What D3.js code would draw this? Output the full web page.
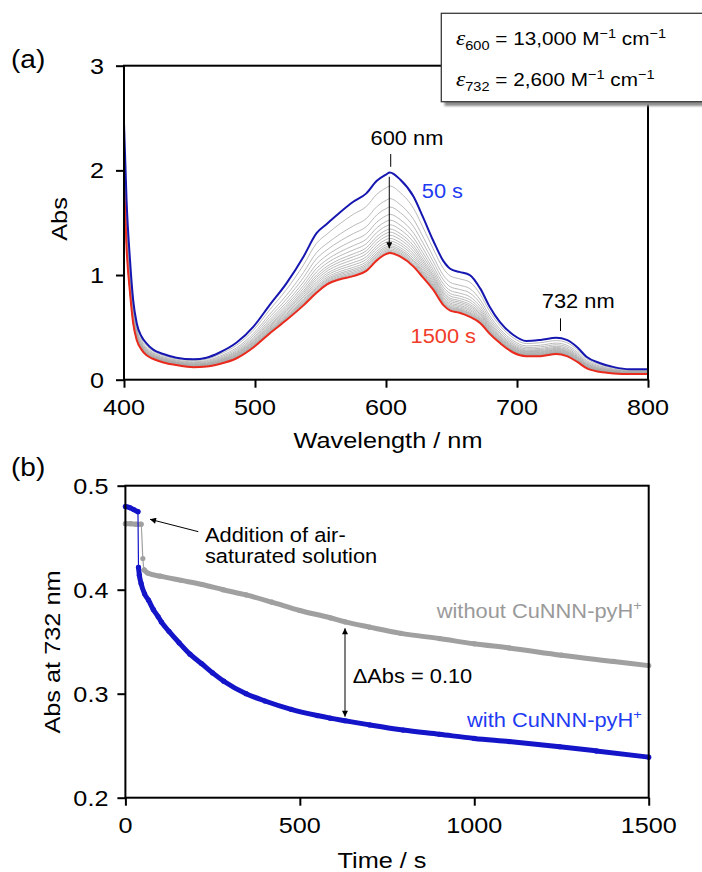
<!DOCTYPE html>
<html>
<head>
<meta charset="utf-8">
<script src="https://cdn.jsdelivr.net/npm/d3@7"></script>
<style>
  html, body { margin: 0; padding: 0; background: #fff; }
  svg { display: block; }
</style>
</head>
<body>
<svg id="fig" width="702" height="872"></svg>
<script>
// ---------- (a) UV-vis spectra ----------
const wavelengths = [400, 402, 404.6, 407, 409.7, 413.5, 417, 422, 430, 440, 453, 463, 473, 486, 499, 511, 524, 537, 547, 555, 565, 575, 585, 593, 600, 603, 611, 621, 628, 636, 644, 649, 656, 664, 672, 679, 687, 697, 707, 718, 730, 738, 746, 753, 763, 774, 786, 800];
// spectrum recorded at 50 s
const abs50s = [2.45, 1.70, 1.14, 0.76, 0.54, 0.41, 0.35, 0.29, 0.245, 0.21, 0.195, 0.21, 0.26, 0.355, 0.51, 0.71, 0.92, 1.175, 1.40, 1.49, 1.60, 1.70, 1.78, 1.90, 1.96, 1.98, 1.91, 1.75, 1.56, 1.33, 1.13, 1.06, 1.03, 1.00, 0.87, 0.70, 0.55, 0.43, 0.37, 0.38, 0.40, 0.38, 0.31, 0.22, 0.16, 0.12, 0.10, 0.10];
// spectrum recorded at 1500 s
const abs1500s = [1.90, 1.25, 0.83, 0.54, 0.38, 0.285, 0.235, 0.20, 0.165, 0.14, 0.12, 0.125, 0.15, 0.205, 0.31, 0.44, 0.57, 0.71, 0.83, 0.91, 0.96, 0.99, 1.04, 1.14, 1.20, 1.21, 1.175, 1.08, 0.98, 0.86, 0.71, 0.66, 0.64, 0.60, 0.54, 0.44, 0.35, 0.26, 0.225, 0.225, 0.245, 0.225, 0.17, 0.11, 0.075, 0.06, 0.055, 0.055];
// absorbance at the 603 nm maximum for the intermediate spectra
const intermediatePeakAbs = [1.85, 1.73, 1.65, 1.58, 1.525, 1.48, 1.44, 1.41, 1.38, 1.35, 1.325, 1.30, 1.28, 1.265, 1.25, 1.237, 1.226, 1.217];

const specXTicks = [400, 500, 600, 700, 800];
const specYTicks = [0, 1, 2, 3];

// ---------- (b) kinetics at 732 nm ----------
const timeWith = [0, 12, 24, 36, 37.5, 40, 45, 55, 66, 80, 94, 103, 125, 154, 185, 218, 250, 282, 346, 400, 475, 550, 587, 630, 700, 796, 900, 1000, 1100, 1245, 1350, 1500];
const absWith = [0.480, 0.479, 0.477, 0.475, 0.4215, 0.414, 0.406, 0.396, 0.390, 0.381, 0.374, 0.369, 0.360, 0.349, 0.338, 0.329, 0.320, 0.312, 0.300, 0.293, 0.285, 0.279, 0.2765, 0.274, 0.270, 0.265, 0.261, 0.257, 0.254, 0.249, 0.245, 0.239];
const timeWithout = [0, 15, 30, 45, 50, 54, 64, 100, 160, 220, 280, 346, 420, 500, 587, 630, 700, 790, 900, 1000, 1100, 1250, 1400, 1500];
const absWithout = [0.4635, 0.4635, 0.463, 0.463, 0.430, 0.419, 0.416, 0.413, 0.409, 0.405, 0.400, 0.395, 0.388, 0.380, 0.373, 0.369, 0.364, 0.358, 0.353, 0.348, 0.344, 0.337, 0.331, 0.327];

const timeTicks = [0, 500, 1000, 1500];
const kinYTicks = [0.2, 0.3, 0.4, 0.5];

// ---------- drawing ----------
const FONT = "'Liberation Sans', Arial, Helvetica, sans-serif";
const SX = 1.12;              // horizontal stretch of the lettering
const svg = d3.select('#fig').attr('font-family', FONT);

function label(parent, x, y, str, o = {}) {
  return parent.append('text')
    .attr('transform', `translate(${x},${y}) rotate(${o.rotate || 0}) scale(${SX},1)`)
    .attr('font-size', o.size || 19.5)
    .attr('text-anchor', o.anchor || 'start')
    .attr('fill', o.fill || '#000')
    .text(str);
}

const defs = svg.append('defs');
defs.append('marker').attr('id', 'head').attr('viewBox', '0 0 10 10')
  .attr('refX', 10).attr('refY', 5).attr('markerWidth', 9).attr('markerHeight', 6)
  .attr('markerUnits', 'userSpaceOnUse').attr('orient', 'auto-start-reverse')
  .append('path').attr('d', 'M0,0 L10,5 L0,10 Z').attr('fill', '#000');
defs.append('filter').attr('id', 'shadow').attr('x', '-10%').attr('y', '-20%').attr('width', '130%').attr('height', '150%')
  .append('feGaussianBlur').attr('stdDeviation', 1.3);

function frame(g, x, y, xTicks, yTicks, yFmt, yLabelGap) {
  const [x0, x1] = x.range(), [y0, y1] = y.range();
  g.append('g').attr('transform', `translate(0,${y0})`)
    .call(d3.axisBottom(x).tickValues(xTicks).tickSize(8).tickFormat(''))
    .call(s => { s.select('.domain').remove(); s.selectAll('line').attr('stroke-width', 2); });
  g.append('g').attr('transform', `translate(${x0},0)`)
    .call(d3.axisLeft(y).tickValues(yTicks).tickSize(8).tickFormat(''))
    .call(s => { s.select('.domain').remove(); s.selectAll('line').attr('stroke-width', 2); });
  g.append('rect').attr('x', x0).attr('y', y1).attr('width', x1 - x0).attr('height', y0 - y1)
    .attr('fill', 'none').attr('stroke', '#000').attr('stroke-width', 2);
  xTicks.forEach(v => label(g, x(v), y0 + 35.5, String(v), { size: 22.5, anchor: 'middle' }));
  yTicks.forEach(v => label(g, x0 - yLabelGap, y(v) + 8, yFmt(v), { size: 22.5, anchor: 'end' }));
}

// ----- panel (a) -----
const xa = d3.scaleLinear([400, 800], [124, 648]);
const ya = d3.scaleLinear([0, 3], [379.7, 65.7]);
const ga = svg.append('g');
const specLine = d3.line().x(d => xa(d[0])).y(d => ya(d[1])).curve(d3.curveMonotoneX);

const peakIdx = wavelengths.indexOf(603);
const hi = abs50s[peakIdx], lo = abs1500s[peakIdx];
intermediatePeakAbs.forEach(p => {
  const f = (p - lo) / (hi - lo);
  const pts = wavelengths.map((w, i) => [w, abs1500s[i] + f * (abs50s[i] - abs1500s[i])]);
  ga.append('path').attr('d', specLine(pts)).attr('fill', 'none')
    .attr('stroke', '#a8a8a8').attr('stroke-width', 0.8);
});
ga.append('path').attr('d', specLine(wavelengths.map((w, i) => [w, abs1500s[i]])))
  .attr('fill', 'none').attr('stroke', '#ea2a1c').attr('stroke-width', 2);
ga.append('path').attr('d', specLine(wavelengths.map((w, i) => [w, abs50s[i]])))
  .attr('fill', 'none').attr('stroke', '#1616b0').attr('stroke-width', 2);

frame(ga, xa, ya, specXTicks, specYTicks, d3.format('d'), 20);

// annotations (a)
ga.append('line').attr('x1', xa(603.6)).attr('x2', xa(603.6)).attr('y1', ya(2.156)).attr('y2', ya(2.034))
  .attr('stroke', '#000').attr('stroke-width', 1);
ga.append('line').attr('x1', xa(602.5)).attr('x2', xa(602.5)).attr('y1', ya(1.939)).attr('y2', ya(1.255))
  .attr('stroke', '#000').attr('stroke-width', 1).attr('marker-end', 'url(#head)');
label(ga, xa(616), ya(2.242), '600 nm', { anchor: 'middle' });
ga.append('line').attr('x1', xa(733.2)).attr('x2', xa(733.2)).attr('y1', ya(0.586)).attr('y2', ya(0.465))
  .attr('stroke', '#000').attr('stroke-width', 1);
label(ga, xa(746.7), ya(0.682), '732 nm', { anchor: 'middle' });
label(ga, xa(627.3), ya(1.733), '50 s', { fill: '#1f3cf2' });
label(ga, xa(618.7), ya(0.348), '1500 s', { fill: '#f03c28' });

label(svg, 11, 68, '(a)', { size: 25 });
label(svg, 67, 219, 'Abs', { size: 22.6, anchor: 'middle', rotate: -90 });
label(svg, 388, 448, 'Wavelength / nm', { size: 22.6, anchor: 'middle' });

// molar absorptivity box
const box = svg.append('g');
box.append('rect').attr('x', 444.5).attr('y', 18).attr('width', 270).attr('height', 88)
  .attr('fill', '#8c8c8c').attr('filter', 'url(#shadow)');
box.append('rect').attr('x', 441.3).attr('y', 13.3).attr('width', 270).attr('height', 88.4)
  .attr('fill', '#fff').attr('stroke', '#3a3a3a').attr('stroke-width', 1.3);
function epsLine(y, sub, value) {
  const t = box.append('text').attr('transform', `translate(456,${y}) scale(${SX},1)`).attr('font-size', 18.5);
  t.append('tspan').attr('font-family', "'Liberation Serif', 'Times New Roman', serif").attr('font-style', 'italic').attr('font-size', 21).text('ε');
  t.append('tspan').attr('font-size', 13).attr('dy', 5).text(sub);
  t.append('tspan').attr('dy', -5).text(` = ${value} M`);
  t.append('tspan').attr('font-size', 13).attr('dy', -7.5).text('−1');
  t.append('tspan').attr('dy', 7.5).text(' cm');
  t.append('tspan').attr('font-size', 13).attr('dy', -7.5).text('−1');
}
epsLine(45, '600', '13,000');
epsLine(86, '732', '2,600');

// ----- panel (b) -----
const xb = d3.scaleLinear([0, 1500], [125.4, 648.7]);
const yb = d3.scaleLinear([0.2, 0.5], [797.7, 485.7]);
const gb = svg.append('g');
const kinLine = d3.line().x(d => xb(d[0])).y(d => yb(d[1])).curve(d3.curveMonotoneX);

function trace(times, vals, color) {
  const pts = times.map((t, i) => [t, vals[i]]);
  gb.append('path').attr('d', kinLine(pts)).attr('fill', 'none').attr('stroke', color).attr('stroke-width', 1.2);
  // dense runs of readings are drawn as a thick band, split where the signal jumps abruptly
  const runs = [[pts[0]]];
  for (let i = 1; i < pts.length; i++) {
    const dv = Math.abs(pts[i][1] - pts[i - 1][1]), dt = pts[i][0] - pts[i - 1][0];
    if (dv > 0.01 && dt < 10) runs.push([]);
    runs[runs.length - 1].push(pts[i]);
  }
  runs.filter(r => r.length > 1).forEach(r => {
    gb.append('path').attr('d', kinLine(r)).attr('fill', 'none').attr('stroke', color)
      .attr('stroke-width', 5).attr('stroke-linecap', 'round').attr('stroke-linejoin', 'round');
  });
  gb.selectAll(null).data(pts).join('circle')
    .attr('cx', d => xb(d[0])).attr('cy', d => yb(d[1])).attr('r', 2.6).attr('fill', color);
}
trace(timeWithout, absWithout, '#a0a0a0');
trace(timeWith, absWith, '#1414c8');

frame(gb, xb, yb, timeTicks, kinYTicks, d3.format('.1f'), 17);

// annotations (b)
gb.append('line').attr('x1', xb(209)).attr('y1', yb(0.4558)).attr('x2', xb(70.5)).attr('y2', yb(0.4677))
  .attr('stroke', '#000').attr('stroke-width', 1).attr('marker-end', 'url(#head)');
label(gb, xb(228), yb(0.4462), 'Addition of air-');
label(gb, xb(228), yb(0.4254), 'saturated solution');
gb.append('line').attr('x1', xb(629.5)).attr('x2', xb(629.5)).attr('y1', yb(0.3629)).attr('y2', yb(0.2779))
  .attr('stroke', '#000').attr('stroke-width', 1)
  .attr('marker-start', 'url(#head)').attr('marker-end', 'url(#head)');
label(gb, xb(651.5), yb(0.3106), 'ΔAbs = 0.10');

function plusLabel(x, y, main, color) {
  const t = gb.append('text').attr('transform', `translate(${x},${y}) scale(${SX},1)`)
    .attr('font-size', 19.5).attr('text-anchor', 'end').attr('fill', color);
  t.append('tspan').text(main);
  t.append('tspan').attr('font-size', 13).attr('dy', -8).text('+');
}
plusLabel(xb(1480), yb(0.3725), 'without CuNNN-pyH', '#9a9a9a');
plusLabel(xb(1480), yb(0.2683), 'with CuNNN-pyH', '#1f3cf2');

label(svg, 11, 476, '(b)', { size: 25 });
label(svg, 60.4, 652, 'Abs at 732 nm', { size: 22.6, anchor: 'middle', rotate: -90 });
label(svg, 382, 868, 'Time / s', { size: 22.6, anchor: 'middle' });
</script>
</body>
</html>
